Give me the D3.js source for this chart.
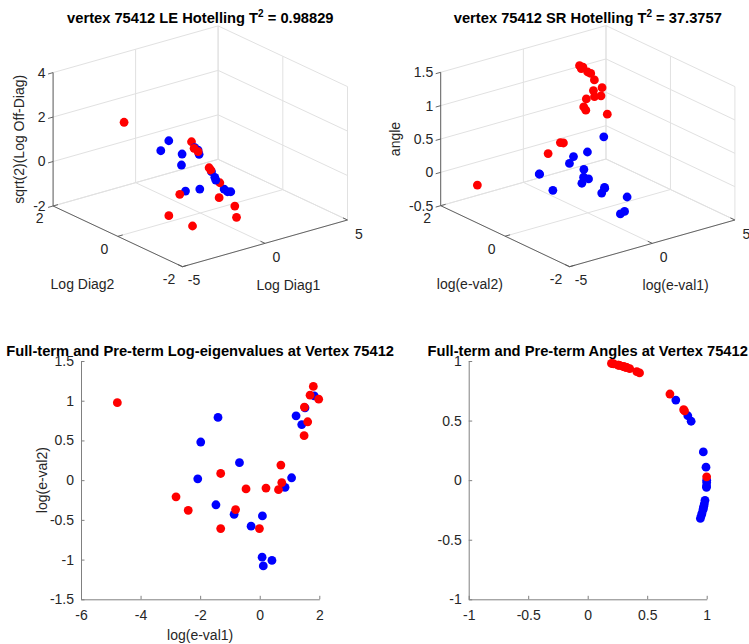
<!DOCTYPE html>
<html>
<head>
<meta charset="utf-8">
<script src="https://cdn.jsdelivr.net/npm/d3@7"></script>
<style>
  body { margin: 0; background: #fff; }
  svg { display: block; }
  text { font-family: "Liberation Sans", Arial, Helvetica, sans-serif; fill: #262626; }
</style>
</head>
<body>
<svg id="fig" width="749" height="644"></svg>
<script>
// ---------- data ----------
// Full-term group (blue): log eigenvalues and principal angle
const fullLogEval1 = [-1.40, -1.98, -2.08, -1.47, -0.86, -0.68, -0.29, 0.09, 0.08, 0.12, 0.41, 0.85, 1.07, 1.22, 1.41, 1.52, 1.83];
const fullLogEval2 = [0.79, 0.48, 0.017, -0.31, -0.43, 0.22, -0.58, -0.45, -0.97, -1.08, -1.01, -0.09, 0.03, 0.81, 0.70, 0.91, 1.06];
const fullAngle    = [0.0, 0.109, -0.02, 0.517, 0.571, 0.239, -0.05, 0.737, -0.30, -0.24, -0.06, -0.17, -0.20, -0.327, -0.25, -0.28, -0.22];

// Pre-term group (red)
const preLogEval1 = [-4.78, -2.81, -2.40, -1.31, -1.31, -0.81, -0.46, -0.01, 0.21, 0.63, 0.74, 0.71, 1.49, 1.61, 1.50, 1.69, 1.80, 1.98];
const preLogEval2 = [0.975, -0.21, -0.38, 0.084, -0.61, -0.37, -0.11, -0.61, -0.10, -0.12, -0.03, 0.19, 0.56, 0.735, 0.92, 1.07, 1.18, 1.02];
const preAngle    = [0.028, 0.633, 0.808, 0.62, 1.27, 1.35, 1.146, 1.12, 1.25, 1.36, 1.21, 1.24, 1.26, 1.31, 1.37, 1.30, 1.31, 1.24];

// Log-Euclidean components: Log Diag1, Log Diag2, sqrt(2)*Log Off-Diag
const fullLogDiag1 = [-1.049, -1.802, -1.737, -0.69, 1.232, 1.352, 1.585, -0.009, -0.279, -0.537, -0.102, -0.079, 0.227, -1.482, -0.805];
const fullLogDiag2 = [0.439, 0.302, -0.323, 0.23, 0.798, 0.758, 0.845, -0.351, -0.591, -0.753, -0.788, -0.881, -0.827, -0.298, -0.395];
const fullLogOff   = [1.17, 0.973, 1.238, 0.146, 0.132, 0.03, -0.27, 0.098, 0.066, 0.109, -0.363, -0.426, -0.527, -0.497, -0.484];

const preLogDiag1 = [-4.08, 1.648, 0.343, 0.293, 0.253, -0.163, -0.382, -2.261, -0.886, -0.618, -0.848, -2.644, -2.159];
const preLogDiag2 = [0.275, 1.112, 0.367, 0.217, -0.143, -0.407, -0.798, -0.519, -1.034, -1.382, -1.552, -0.376, -0.861];
const preLogOff   = [2.75, 0.099, 0.587, 0.547, 0.08, 0.245, -0.014, -0.331, -0.42, -0.614, -0.958, -1.31, -1.543];

const vertexId = "75412";
const leT2 = "0.98829";
const srT2 = "37.3757";

const ticks3dLog = [-5, 0, 5];
const ticks3dDiag2 = [-2, 0, 2];
const ticksOff = [-2, 0, 2, 4];
const ticksAngle = [-0.5, 0, 0.5, 1, 1.5];
const ticksEv1 = [-6, -4, -2, 0, 2];
const ticksEv2 = [-1.5, -1, -0.5, 0, 0.5, 1, 1.5];
const ticksUnit = [-1, -0.5, 0, 0.5, 1];

const BLUE = "#0000ff", RED = "#ff0000";
const R = 4.4;

const svg = d3.select("#fig");
svg.append("rect").attr("width", 749).attr("height", 644).attr("fill", "#fff");

function title(cx, y, main, sup, rest) {
  const t = svg.append("text").attr("x", cx).attr("y", y)
    .attr("text-anchor", "middle").style("font-weight", "bold").style("font-size", "14.7px")
    .style("fill", "#000");
  t.append("tspan").text(main);
  if (sup) {
    t.append("tspan").attr("dy", -6).style("font-size", "10px").text(sup);
    t.append("tspan").attr("dy", 6).text(rest);
  }
}

// ---------- 3-D scatter panels (orthographic box view) ----------
function panel3D(p) {
  const g = svg.append("g");
  const xs = d3.scaleLinear().domain(p.xDomain).range([0, 1]);
  const ys = d3.scaleLinear().domain(p.yDomain).range([0, 1]);
  const zs = d3.scaleLinear().domain(p.zDomain).range([0, 1]);
  const [ox, oy] = p.origin;
  const proj = (x, y, z) => {
    const a = xs(x), b = ys(y), c = zs(z);
    return [ox + a * p.ex[0] + b * p.ey[0] + c * p.ez[0],
            oy + a * p.ex[1] + b * p.ey[1] + c * p.ez[1]];
  };
  const [x0, x1] = p.xDomain, [y0, y1] = p.yDomain, [z0, z1] = p.zDomain;

  const grid = [];
  p.xTicks.forEach(t => { grid.push([[t, y0, z0], [t, y1, z0]]); grid.push([[t, y1, z0], [t, y1, z1]]); });
  p.yTicks.forEach(t => { grid.push([[x0, t, z0], [x1, t, z0]]); grid.push([[x1, t, z0], [x1, t, z1]]); });
  p.zTicks.forEach(t => { grid.push([[x0, y1, t], [x1, y1, t]]); grid.push([[x1, y0, t], [x1, y1, t]]); });

  const seg = s => { const a = proj(...s[0]), b = proj(...s[1]); return `M${a[0]},${a[1]}L${b[0]},${b[1]}`; };
  g.append("g").selectAll("path").data(grid).join("path")
    .attr("d", seg).attr("stroke", "#e1e1e1").attr("stroke-width", 1).attr("fill", "none");

  const axes = [[[x0, y0, z0], [x1, y0, z0]], [[x0, y0, z0], [x0, y1, z0]], [[x0, y1, z0], [x0, y1, z1]]];
  g.append("g").selectAll("path").data(axes).join("path")
    .attr("d", seg).attr("stroke", "#555").attr("stroke-width", 0.9).attr("fill", "none");

  // tick marks
  const tk = [];
  const dy = (y1 - y0) * 0.035, dx = (x1 - x0) * 0.03;
  p.xTicks.forEach(t => tk.push([[t, y0, z0], [t, y0 + dy, z0]]));
  p.yTicks.forEach(t => tk.push([[x0, t, z0], [x0 + dx, t, z0]]));
  g.append("g").selectAll("path").data(tk).join("path")
    .attr("d", seg).attr("stroke", "#555").attr("stroke-width", 0.9);
  g.append("g").selectAll("path").data(p.zTicks).join("path")
    .attr("d", t => { const a = proj(x0, y1, t); return `M${a[0]},${a[1]}l-5,1.4`; })
    .attr("stroke", "#555").attr("stroke-width", 0.9);

  // tick labels
  g.append("g").selectAll("text").data(p.xTicks).join("text")
    .attr("x", t => proj(t, y0, z0)[0] + 11.5).attr("y", t => proj(t, y0, z0)[1] + 13.7)
    .attr("dy", "0.35em").attr("text-anchor", "middle").style("font-size", "14px").text(t => t);
  g.append("g").selectAll("text").data(p.yTicks).join("text")
    .attr("x", t => proj(x0, t, z0)[0] - 13.5).attr("y", t => proj(x0, t, z0)[1] + 12.5)
    .attr("dy", "0.35em").attr("text-anchor", "middle").style("font-size", "14px").text(t => t);
  g.append("g").selectAll("text").data(p.zTicks).join("text")
    .attr("x", t => proj(x0, y1, t)[0] - 7.5).attr("y", t => proj(x0, y1, t)[1])
    .attr("dy", "0.35em").attr("text-anchor", "end").style("font-size", "14px").text(t => t);

  // axis labels
  const xm = proj((x0 + x1) / 2, y0, z0), ym = proj(x0, (y0 + y1) / 2, z0), zm = proj(x0, y1, (z0 + z1) / 2);
  g.append("text").attr("x", xm[0] + 23.4).attr("y", xm[1] + 46.6).attr("text-anchor", "middle")
    .style("font-size", "14px").text(p.xLabel);
  g.append("text").attr("x", ym[0] - 35.3).attr("y", ym[1] + 53).attr("text-anchor", "middle")
    .style("font-size", "14px").text(p.yLabel);
  g.append("text").attr("transform", `translate(${p.zLabelX},${zm[1]}) rotate(-90)`)
    .attr("text-anchor", "middle").style("font-size", "14px").text(p.zLabel);

  // points, painted far-to-near
  const pts = [];
  p.series.forEach(s => s.x.forEach((v, i) => pts.push({ x: v, y: s.y[i], z: s.z[i], c: s.color })));
  pts.forEach(d => { d.depth = -0.527 * xs(d.x) - 0.687 * ys(d.y) + 0.5 * zs(d.z); });
  pts.sort((a, b) => a.depth - b.depth);
  g.append("g").selectAll("circle").data(pts).join("circle")
    .attr("cx", d => proj(d.x, d.y, d.z)[0]).attr("cy", d => proj(d.x, d.y, d.z)[1])
    .attr("r", R).attr("fill", d => d.c);

  const left = proj(x0, y1, z0)[0], right = proj(x1, y0, z0)[0];
  title((left + right) / 2, 23, p.titleMain, "2", p.titleRest);
}

panel3D({
  origin: [182.5, 266.7], ex: [165, -46.7], ey: [-129.4, -60.7], ez: [0, -133.4],
  xDomain: [-5, 5], yDomain: [-2, 2], zDomain: [-2, 4],
  xTicks: ticks3dLog, yTicks: ticks3dDiag2, zTicks: ticksOff,
  xLabel: "Log Diag1", yLabel: "Log Diag2", zLabel: "sqrt(2)(Log Off-Diag)", zLabelX: 24,
  titleMain: `vertex ${vertexId} LE Hotelling T`, titleRest: ` = ${leT2}`,
  series: [
    { x: fullLogDiag1, y: fullLogDiag2, z: fullLogOff, color: BLUE },
    { x: preLogDiag1, y: preLogDiag2, z: preLogOff, color: RED }
  ]
});

panel3D({
  origin: [569.6, 266.7], ex: [165.3, -46.7], ey: [-128.9, -61], ez: [0, -133.4],
  xDomain: [-5, 5], yDomain: [-2, 2], zDomain: [-0.5, 1.5],
  xTicks: ticks3dLog, yTicks: ticks3dDiag2, zTicks: ticksAngle,
  xLabel: "log(e-val1)", yLabel: "log(e-val2)", zLabel: "angle", zLabelX: 399.5,
  titleMain: `vertex ${vertexId} SR Hotelling T`, titleRest: ` = ${srT2}`,
  series: [
    { x: fullLogEval1, y: fullLogEval2, z: fullAngle, color: BLUE },
    { x: preLogEval1, y: preLogEval2, z: preAngle, color: RED }
  ]
});

// ---------- 2-D scatter panels ----------
function panel2D(p) {
  const g = svg.append("g");
  const x = d3.scaleLinear().domain(p.xDomain).range(p.xRange);
  const y = d3.scaleLinear().domain(p.yDomain).range(p.yRange);
  const fmt = d => String(d);

  const ax = g.append("g").attr("transform", `translate(0,${p.yRange[0]})`)
    .call(d3.axisBottom(x).tickValues(p.xTicks).tickFormat(fmt).tickSizeInner(-3.5).tickSizeOuter(0).tickPadding(10.5));
  const ay = g.append("g").attr("transform", `translate(${p.xRange[0]},0)`)
    .call(d3.axisLeft(y).tickValues(p.yTicks).tickFormat(fmt).tickSizeInner(-3.5).tickSizeOuter(0).tickPadding(7));
  [ax, ay].forEach(a => {
    a.select(".domain").attr("stroke", "#808080");
    a.selectAll(".tick line").attr("stroke", "#808080");
    a.selectAll(".tick text").style("font-size", "14px").style("font-family", null).attr("fill", "#262626");
    a.attr("font-family", null).attr("font-size", null);
  });

  if (p.xLabel) {
    g.append("text").attr("x", (p.xRange[0] + p.xRange[1]) / 2).attr("y", 640)
      .attr("text-anchor", "middle").style("font-size", "14px").text(p.xLabel);
  }
  if (p.yLabel) {
    g.append("text").attr("transform", `translate(47,${(p.yRange[0] + p.yRange[1]) / 2}) rotate(-90)`)
      .attr("text-anchor", "middle").style("font-size", "14px").text(p.yLabel);
  }

  p.series.forEach(s => {
    g.append("g").selectAll("circle").data(s.x).join("circle")
      .attr("cx", d => x(d)).attr("cy", (d, i) => y(s.y[i])).attr("r", R).attr("fill", s.color);
  });

  title((p.xRange[0] + p.xRange[1]) / 2, 356, p.title);
}

panel2D({
  xDomain: [-6, 2], xRange: [81, 319.3], yDomain: [-1.5, 1.5], yRange: [599.3, 361],
  xTicks: ticksEv1, yTicks: ticksEv2, xLabel: "log(e-val1)", yLabel: "log(e-val2)",
  title: `Full-term and Pre-term Log-eigenvalues at Vertex ${vertexId}`,
  series: [
    { x: fullLogEval1, y: fullLogEval2, color: BLUE },
    { x: preLogEval1, y: preLogEval2, color: RED }
  ]
});

panel2D({
  xDomain: [-1, 1], xRange: [468.7, 706.7], yDomain: [-1, 1], yRange: [599.3, 361],
  xTicks: ticksUnit, yTicks: ticksUnit,
  title: `Full-term and Pre-term Angles at Vertex ${vertexId}`,
  series: [
    { x: fullAngle.map(Math.cos), y: fullAngle.map(Math.sin), color: BLUE },
    { x: preAngle.map(Math.cos), y: preAngle.map(Math.sin), color: RED }
  ]
});
</script>
</body>
</html>
